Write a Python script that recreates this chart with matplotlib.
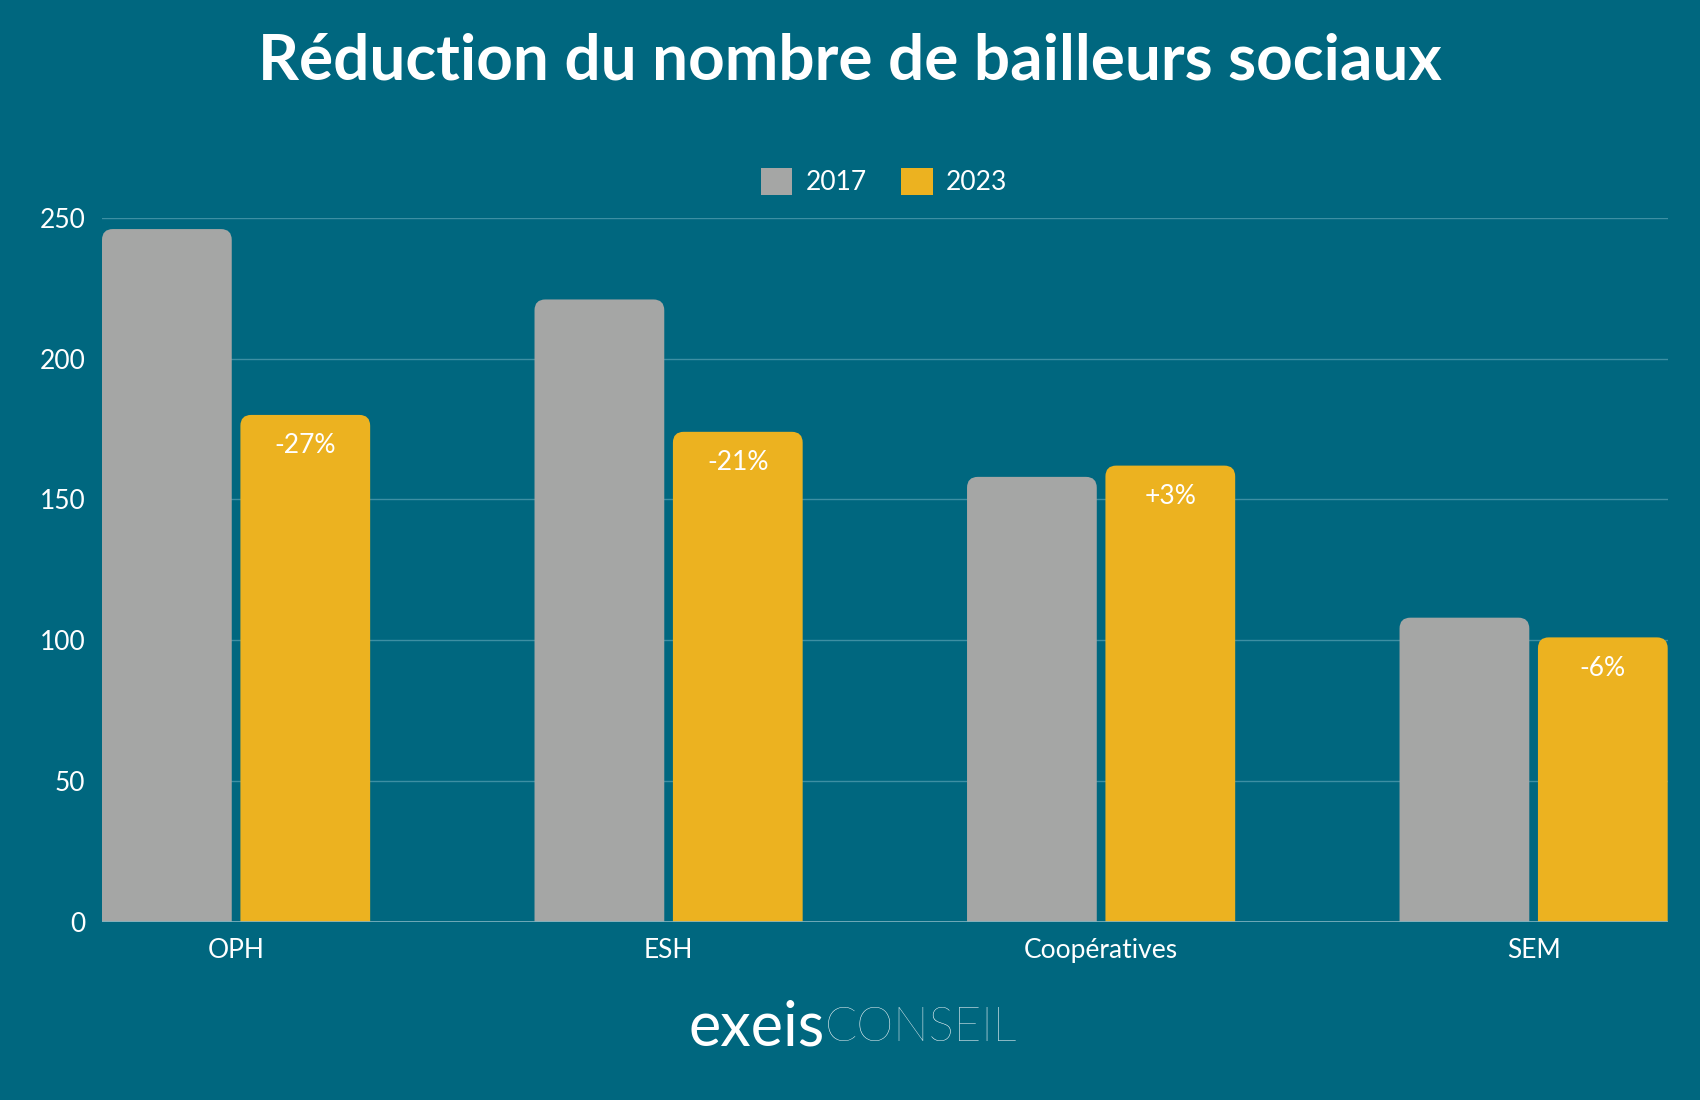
import matplotlib
matplotlib.use("Agg")
import matplotlib.pyplot as plt
from matplotlib.patches import FancyBboxPatch, Patch

categories = ["OPH", "ESH", "Coopératives", "SEM"]
years = ["2017", "2023"]
v2017 = [246, 221, 158, 108]
v2023 = [180, 174, 162, 101]
labels = ["-27%", "-21%", "+3%", "-6%"]

BG = "#00677F"
GREY = "#A5A6A5"
YEL = "#ECB220"

plt.rcParams["font.family"] = "Lato"
fig = plt.figure(figsize=(17, 11), dpi=100, facecolor=BG)
ax = fig.add_axes([0.06, 0.162, 0.921, 0.64], facecolor=BG)

w = 0.30
off = 0.16
rad = 0.025
asp = 154
for i, c in enumerate(categories):
    for val, dx, col in [(v2017[i], -off, GREY), (v2023[i], off, YEL)]:
        p = FancyBboxPatch((i + dx - w / 2, -20), w, val + 20,
                           boxstyle=f"round,pad=0,rounding_size={rad}",
                           mutation_aspect=asp, fc=col, ec="none", zorder=3)
        ax.add_patch(p)
    ax.text(i + off, v2023[i] - 11, labels[i], ha="center", va="center",
            color="white", fontsize=19, zorder=4)

ax.set_xlim(-0.31, 3.31)
ax.set_ylim(0, 250)
ax.set_yticks(range(0, 251, 50))
ax.set_xticks(range(len(categories)))
ax.set_xticklabels(categories)
ax.grid(axis="y", color="#3D8FA3", lw=1, zorder=0)
ax.tick_params(colors="white", labelsize=19, length=0, pad=12)
for s in ax.spines.values():
    s.set_visible(False)
ax.axhline(0, color="#7FB3C0", lw=1.2, zorder=5)

fig.text(0.5, 0.945, "Réduction du nombre de bailleurs sociaux", ha="center", va="center",
         color="white", fontsize=46, fontweight="bold")
handles = [Patch(fc=GREY, label="2017"), Patch(fc=YEL, label="2023")]
fig.legend(handles=handles, loc="center", bbox_to_anchor=(0.52, 0.835), ncol=2, frameon=False,
           labelcolor="white", fontsize=19, handlelength=1.2, handleheight=1.2,
           handletextpad=0.5, columnspacing=1.3)
fig.text(0.485, 0.065, "exeis", ha="right", va="center", color="white", fontsize=44)
fig.text(0.485, 0.065, "CONSEIL", ha="left", va="center", color="white", fontsize=34, fontweight="light")

fig.savefig("out.png", dpi=100, facecolor=BG)
